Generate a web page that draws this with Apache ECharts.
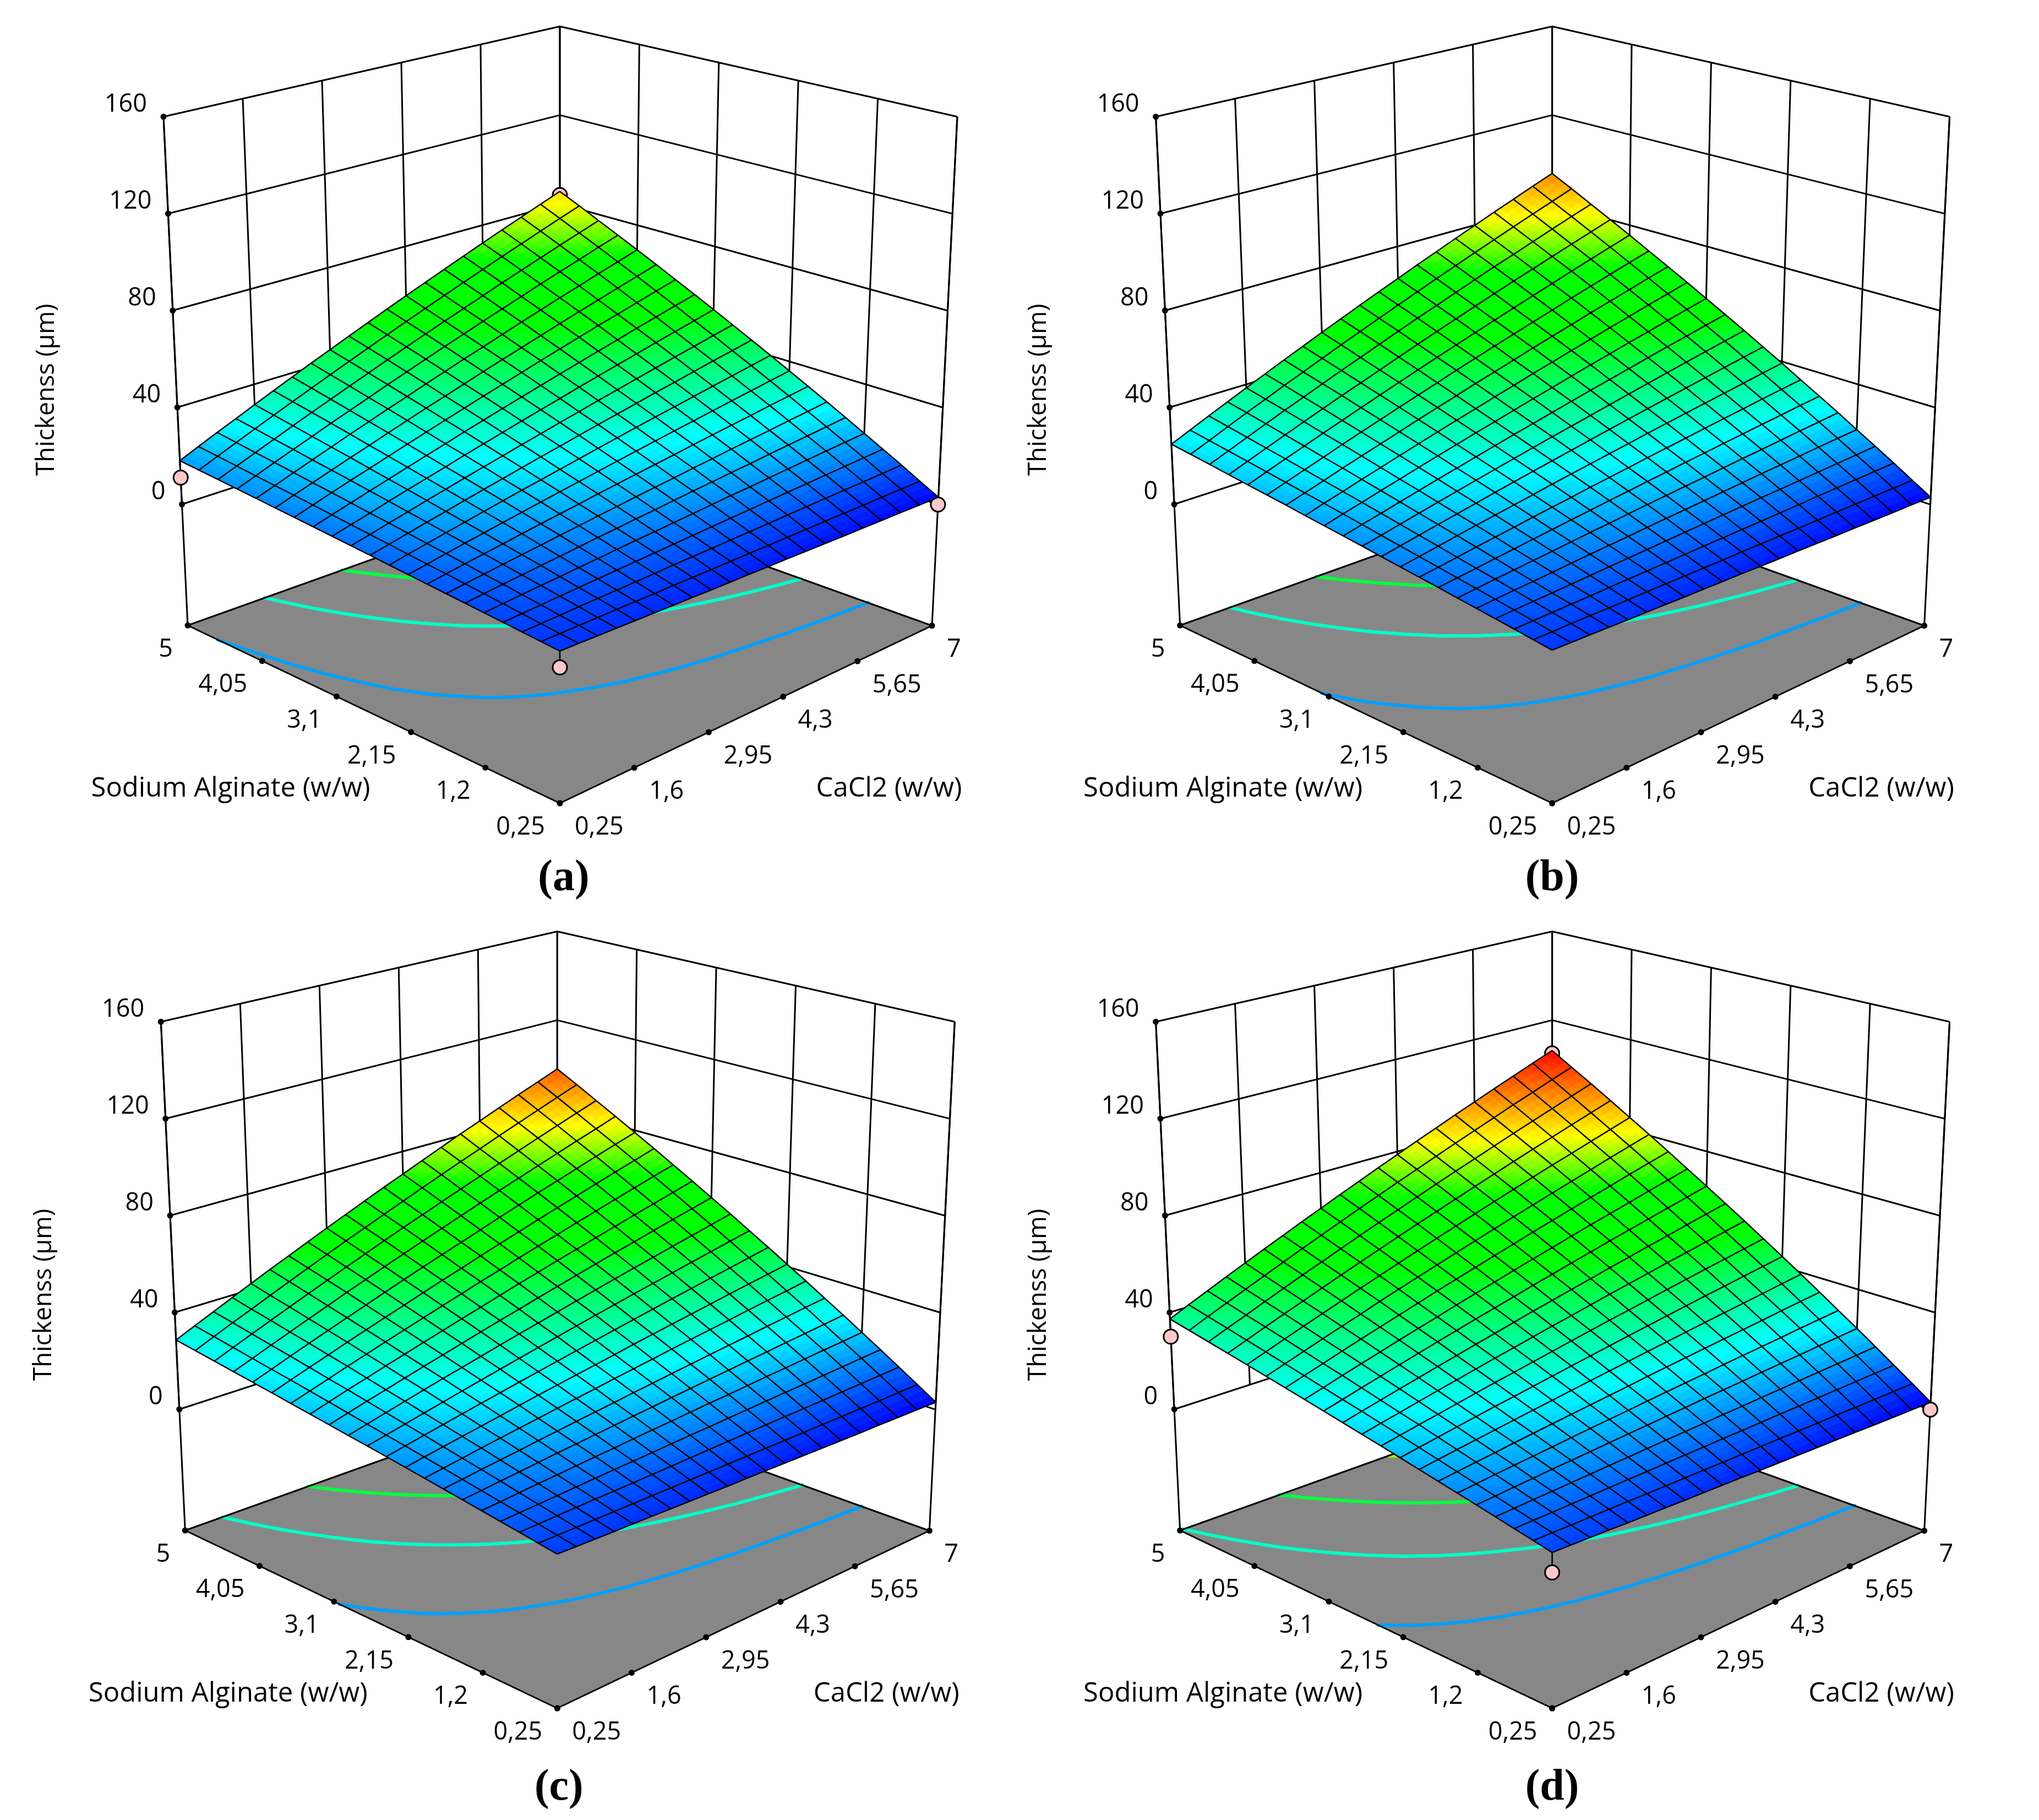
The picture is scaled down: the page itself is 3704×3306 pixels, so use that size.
<!DOCTYPE html>
<html><head><meta charset="utf-8"><style>html,body{margin:0;background:#fff}#c{width:3704px;height:3306px}</style>
<script src="https://cdn.jsdelivr.net/npm/echarts@6/dist/echarts.min.js"></script></head><body><div id="c"></div>
<script>
const caTicks=[0.25,1.6,2.95,4.3,5.65,7], caLabels=['0,25','1,6','2,95','4,3','5,65','7'];
const saTicks=[0.25,1.2,2.15,3.1,4.05,5], saLabels=['0,25','1,2','2,15','3,1','4,05','5'];
const zTicks=[0,40,80,120,160];
const zFloor=-50,zTop=160;
const caGrid=[0.25,0.5875,0.925,1.2625,1.6,1.9375,2.275,2.6125,2.95,3.2875,3.625,3.9625,4.3,4.6375,4.975,5.3125,5.65,5.9875,6.325,6.6625,7];
const saGrid=[0.25,0.4875,0.725,0.9625,1.2,1.4375,1.675,1.9125,2.15,2.3875,2.625,2.8625,3.1,3.3375,3.575,3.8125,4.05,4.2875,4.525,4.7625,5];
// Estimated surface heights: rows follow saGrid, columns follow caGrid. Estimated by eye from the corner heights and contour crossings.
const thicknessA=[
[7.9,7.7,7.4,7.2,6.9,6.7,6.4,6.2,5.9,5.7,5.5,5.2,5.0,4.7,4.5,4.2,4.0,3.7,3.5,3.2,3.0],
[8.4,8.3,8.3,8.2,8.2,8.1,8.0,8.0,7.9,7.8,7.8,7.7,7.6,7.6,7.5,7.5,7.4,7.3,7.3,7.2,7.1],
[8.9,9.0,9.1,9.3,9.4,9.5,9.6,9.7,9.9,10.0,10.1,10.2,10.3,10.4,10.6,10.7,10.8,10.9,11.0,11.1,11.3],
[9.4,9.7,10.0,10.3,10.6,10.9,11.2,11.5,11.8,12.1,12.4,12.7,13.0,13.3,13.6,13.9,14.2,14.5,14.8,15.1,15.4],
[9.9,10.4,10.9,11.4,11.8,12.3,12.8,13.3,13.8,14.2,14.7,15.2,15.7,16.2,16.6,17.1,17.6,18.1,18.6,19.0,19.5],
[10.4,11.1,11.8,12.4,13.1,13.7,14.4,15.1,15.7,16.4,17.0,17.7,18.4,19.0,19.7,20.3,21.0,21.7,22.3,23.0,23.7],
[10.9,11.8,12.6,13.5,14.3,15.1,16.0,16.8,17.7,18.5,19.4,20.2,21.0,21.9,22.7,23.6,24.4,25.2,26.1,26.9,27.8],
[11.4,12.5,13.5,14.5,15.5,16.6,17.6,18.6,19.6,20.7,21.7,22.7,23.7,24.7,25.8,26.8,27.8,28.8,29.9,30.9,31.9],
[11.9,13.1,14.4,15.6,16.8,18.0,19.2,20.4,21.6,22.8,24.0,25.2,26.4,27.6,28.8,30.0,31.2,32.4,33.6,34.8,36.0],
[12.4,13.8,15.2,16.6,18.0,19.4,20.8,22.2,23.5,24.9,26.3,27.7,29.1,30.5,31.9,33.2,34.6,36.0,37.4,38.8,40.2],
[13.0,14.5,16.1,17.7,19.2,20.8,22.4,23.9,25.5,27.1,28.6,30.2,31.8,33.3,34.9,36.5,38.0,39.6,41.2,42.7,44.3],
[13.5,15.2,17.0,18.7,20.5,22.2,24.0,25.7,27.4,29.2,30.9,32.7,34.4,36.2,37.9,39.7,41.4,43.2,44.9,46.7,48.4],
[14.0,15.9,17.8,19.8,21.7,23.6,25.5,27.5,29.4,31.3,33.3,35.2,37.1,39.1,41.0,42.9,44.8,46.8,48.7,50.6,52.6],
[14.5,16.6,18.7,20.8,22.9,25.0,27.1,29.2,31.4,33.5,35.6,37.7,39.8,41.9,44.0,46.1,48.2,50.4,52.5,54.6,56.7],
[15.0,17.3,19.6,21.9,24.1,26.4,28.7,31.0,33.3,35.6,37.9,40.2,42.5,44.8,47.1,49.4,51.7,53.9,56.2,58.5,60.8],
[15.5,18.0,20.4,22.9,25.4,27.8,30.3,32.8,35.3,37.7,40.2,42.7,45.2,47.6,50.1,52.6,55.1,57.5,60.0,62.5,65.0],
[16.0,18.6,21.3,23.9,26.6,29.3,31.9,34.6,37.2,39.9,42.5,45.2,47.8,50.5,53.2,55.8,58.5,61.1,63.8,66.4,69.1],
[16.5,19.3,22.2,25.0,27.8,30.7,33.5,36.3,39.2,42.0,44.9,47.7,50.5,53.4,56.2,59.0,61.9,64.7,67.5,70.4,73.2],
[17.0,20.0,23.0,26.0,29.1,32.1,35.1,38.1,41.1,44.2,47.2,50.2,53.2,56.2,59.2,62.3,65.3,68.3,71.3,74.3,77.3],
[17.5,20.7,23.9,27.1,30.3,33.5,36.7,39.9,43.1,46.3,49.5,52.7,55.9,59.1,62.3,65.5,68.7,71.9,75.1,78.3,81.5],
[18.0,21.4,24.8,28.1,31.5,34.9,38.3,41.7,45.0,48.4,51.8,55.2,58.6,61.9,65.3,68.7,72.1,75.5,78.8,82.2,85.6]];
const thicknessB=[
[8.3,8.0,7.8,7.5,7.2,7.0,6.7,6.4,6.2,5.9,5.7,5.4,5.1,4.9,4.6,4.3,4.1,3.8,3.5,3.3,3.0],
[9.1,9.0,9.0,8.9,8.8,8.7,8.7,8.6,8.5,8.4,8.3,8.3,8.2,8.1,8.0,7.9,7.9,7.8,7.7,7.6,7.5],
[10.0,10.1,10.2,10.3,10.4,10.5,10.6,10.7,10.8,10.9,11.0,11.1,11.2,11.3,11.4,11.5,11.7,11.8,11.9,12.0,12.1],
[10.8,11.1,11.4,11.6,11.9,12.2,12.5,12.8,13.1,13.4,13.7,14.0,14.3,14.6,14.9,15.1,15.4,15.7,16.0,16.3,16.6],
[11.6,12.1,12.6,13.0,13.5,14.0,14.5,14.9,15.4,15.9,16.4,16.8,17.3,17.8,18.3,18.8,19.2,19.7,20.2,20.7,21.1],
[12.4,13.1,13.8,14.4,15.1,15.7,16.4,17.1,17.7,18.4,19.1,19.7,20.4,21.0,21.7,22.4,23.0,23.7,24.4,25.0,25.7],
[13.3,14.1,14.9,15.8,16.6,17.5,18.3,19.2,20.0,20.9,21.7,22.6,23.4,24.3,25.1,26.0,26.8,27.7,28.5,29.4,30.2],
[14.1,15.1,16.1,17.2,18.2,19.2,20.3,21.3,22.3,23.4,24.4,25.4,26.5,27.5,28.5,29.6,30.6,31.6,32.7,33.7,34.7],
[14.9,16.1,17.3,18.6,19.8,21.0,22.2,23.4,24.7,25.9,27.1,28.3,29.5,30.8,32.0,33.2,34.4,35.6,36.8,38.1,39.3],
[15.7,17.1,18.5,19.9,21.3,22.7,24.2,25.6,27.0,28.4,29.8,31.2,32.6,34.0,35.4,36.8,38.2,39.6,41.0,42.4,43.8],
[16.6,18.1,19.7,21.3,22.9,24.5,26.1,27.7,29.3,30.9,32.5,34.0,35.6,37.2,38.8,40.4,42.0,43.6,45.2,46.8,48.4],
[17.4,19.2,20.9,22.7,24.5,26.3,28.0,29.8,31.6,33.4,35.1,36.9,38.7,40.5,42.2,44.0,45.8,47.6,49.3,51.1,52.9],
[18.2,20.2,22.1,24.1,26.0,28.0,30.0,31.9,33.9,35.8,37.8,39.8,41.7,43.7,45.7,47.6,49.6,51.5,53.5,55.5,57.4],
[19.0,21.2,23.3,25.5,27.6,29.8,31.9,34.1,36.2,38.3,40.5,42.6,44.8,46.9,49.1,51.2,53.4,55.5,57.7,59.8,62.0],
[19.9,22.2,24.5,26.9,29.2,31.5,33.8,36.2,38.5,40.8,43.2,45.5,47.8,50.2,52.5,54.8,57.2,59.5,61.8,64.2,66.5],
[20.7,23.2,25.7,28.2,30.8,33.3,35.8,38.3,40.8,43.3,45.9,48.4,50.9,53.4,55.9,58.4,61.0,63.5,66.0,68.5,71.0],
[21.5,24.2,26.9,29.6,32.3,35.0,37.7,40.4,43.1,45.8,48.5,51.2,53.9,56.6,59.3,62.0,64.7,67.5,70.2,72.9,75.6],
[22.3,25.2,28.1,31.0,33.9,36.8,39.7,42.5,45.4,48.3,51.2,54.1,57.0,59.9,62.8,65.7,68.5,71.4,74.3,77.2,80.1],
[23.2,26.2,29.3,32.4,35.5,38.5,41.6,44.7,47.7,50.8,53.9,57.0,60.0,63.1,66.2,69.3,72.3,75.4,78.5,81.6,84.6],
[24.0,27.2,30.5,33.8,37.0,40.3,43.5,46.8,50.1,53.3,56.6,59.8,63.1,66.4,69.6,72.9,76.1,79.4,82.7,85.9,89.2],
[24.8,28.2,31.7,35.1,38.6,42.0,45.5,48.9,52.4,55.8,59.3,62.7,66.1,69.6,73.0,76.5,79.9,83.4,86.8,90.3,93.7]];
const thicknessC=[
[8.7,8.4,8.1,7.8,7.6,7.3,7.0,6.7,6.4,6.1,5.9,5.6,5.3,5.0,4.7,4.4,4.1,3.9,3.6,3.3,3.0],
[9.7,9.6,9.5,9.4,9.3,9.2,9.1,9.0,8.9,8.8,8.7,8.6,8.5,8.4,8.3,8.2,8.1,8.0,7.9,7.9,7.8],
[10.7,10.8,10.9,11.0,11.1,11.1,11.2,11.3,11.4,11.5,11.6,11.7,11.8,11.9,12.0,12.0,12.1,12.2,12.3,12.4,12.5],
[11.7,12.0,12.2,12.5,12.8,13.1,13.4,13.6,13.9,14.2,14.5,14.7,15.0,15.3,15.6,15.9,16.1,16.4,16.7,17.0,17.3],
[12.7,13.1,13.6,14.1,14.5,15.0,15.5,15.9,16.4,16.9,17.3,17.8,18.3,18.7,19.2,19.7,20.1,20.6,21.1,21.5,22.0],
[13.7,14.3,15.0,15.6,16.3,17.0,17.6,18.3,18.9,19.6,20.2,20.9,21.5,22.2,22.8,23.5,24.1,24.8,25.4,26.1,26.8],
[14.7,15.5,16.4,17.2,18.0,18.9,19.7,20.6,21.4,22.2,23.1,23.9,24.8,25.6,26.5,27.3,28.1,29.0,29.8,30.7,31.5],
[15.7,16.7,17.7,18.8,19.8,20.8,21.8,22.9,23.9,24.9,26.0,27.0,28.0,29.1,30.1,31.1,32.1,33.2,34.2,35.2,36.3],
[16.7,17.9,19.1,20.3,21.5,22.7,24.0,25.2,26.4,27.6,28.8,30.0,31.3,32.5,33.7,34.9,36.1,37.4,38.6,39.8,41.0],
[17.7,19.1,20.5,21.9,23.3,24.7,26.1,27.5,28.9,30.3,31.7,33.1,34.5,35.9,37.3,38.7,40.1,41.5,42.9,44.3,45.8],
[18.7,20.2,21.8,23.4,25.0,26.6,28.2,29.8,31.4,33.0,34.6,36.2,37.8,39.4,41.0,42.5,44.1,45.7,47.3,48.9,50.5],
[19.6,21.4,23.2,25.0,26.8,28.6,30.3,32.1,33.9,35.7,37.4,39.2,41.0,42.8,44.6,46.4,48.1,49.9,51.7,53.5,55.3],
[20.6,22.6,24.6,26.5,28.5,30.5,32.4,34.4,36.4,38.4,40.3,42.3,44.3,46.2,48.2,50.2,52.1,54.1,56.1,58.0,60.0],
[21.6,23.8,26.0,28.1,30.3,32.4,34.6,36.7,38.9,41.0,43.2,45.4,47.5,49.7,51.8,54.0,56.1,58.3,60.4,62.6,64.8],
[22.6,25.0,27.3,29.7,32.0,34.4,36.7,39.0,41.4,43.7,46.1,48.4,50.8,53.1,55.4,57.8,60.1,62.5,64.8,67.2,69.5],
[23.6,26.2,28.7,31.2,33.8,36.3,38.8,41.3,43.9,46.4,48.9,51.5,54.0,56.5,59.1,61.6,64.1,66.7,69.2,71.7,74.3],
[24.6,27.3,30.1,32.8,35.5,38.2,40.9,43.7,46.4,49.1,51.8,54.5,57.2,60.0,62.7,65.4,68.1,70.8,73.6,76.3,79.0],
[25.6,28.5,31.4,34.3,37.2,40.1,43.1,46.0,48.9,51.8,54.7,57.6,60.5,63.4,66.3,69.2,72.1,75.0,77.9,80.8,83.8],
[26.6,29.7,32.8,35.9,39.0,42.1,45.2,48.3,51.4,54.5,57.6,60.6,63.7,66.8,69.9,73.0,76.1,79.2,82.3,85.4,88.5],
[27.6,30.9,34.2,37.4,40.7,44.0,47.3,50.6,53.9,57.1,60.4,63.7,67.0,70.3,73.6,76.8,80.1,83.4,86.7,90.0,93.3],
[28.6,32.1,35.5,39.0,42.5,46.0,49.4,52.9,56.4,59.8,63.3,66.8,70.2,73.7,77.2,80.7,84.1,87.6,91.1,94.5,98.0]];
const thicknessD=[
[9.3,9.0,8.7,8.4,8.0,7.7,7.4,7.1,6.8,6.5,6.2,5.8,5.5,5.2,4.9,4.6,4.3,3.9,3.6,3.3,3.0],
[10.7,10.6,10.4,10.3,10.2,10.1,9.9,9.8,9.7,9.6,9.4,9.3,9.2,9.1,8.9,8.8,8.7,8.5,8.4,8.3,8.2],
[12.1,12.2,12.2,12.3,12.3,12.4,12.5,12.5,12.6,12.7,12.7,12.8,12.8,12.9,13.0,13.0,13.1,13.1,13.2,13.3,13.3],
[13.5,13.7,14.0,14.2,14.5,14.7,15.0,15.2,15.5,15.7,16.0,16.2,16.5,16.7,17.0,17.2,17.5,17.7,18.0,18.2,18.5],
[14.9,15.3,15.8,16.2,16.7,17.1,17.5,18.0,18.4,18.8,19.3,19.7,20.2,20.6,21.0,21.5,21.9,22.3,22.8,23.2,23.7],
[16.3,16.9,17.6,18.2,18.8,19.4,20.1,20.7,21.3,21.9,22.6,23.2,23.8,24.4,25.1,25.7,26.3,26.9,27.6,28.2,28.8],
[17.7,18.5,19.3,20.1,21.0,21.8,22.6,23.4,24.2,25.0,25.8,26.7,27.5,28.3,29.1,29.9,30.7,31.5,32.4,33.2,34.0],
[19.1,20.1,21.1,22.1,23.1,24.1,25.1,26.1,27.1,28.1,29.1,30.1,31.1,32.1,33.1,34.1,35.1,36.1,37.1,38.2,39.2],
[20.5,21.7,22.9,24.1,25.3,26.5,27.6,28.8,30.0,31.2,32.4,33.6,34.8,36.0,37.2,38.4,39.6,40.7,41.9,43.1,44.3],
[21.9,23.3,24.7,26.0,27.4,28.8,30.2,31.5,32.9,34.3,35.7,37.1,38.5,39.8,41.2,42.6,44.0,45.4,46.7,48.1,49.5],
[23.3,24.9,26.4,28.0,29.6,31.1,32.7,34.3,35.8,37.4,39.0,40.5,42.1,43.7,45.2,46.8,48.4,49.9,51.5,53.1,54.7],
[24.7,26.5,28.2,30.0,31.7,33.5,35.2,37.0,38.7,40.5,42.3,44.0,45.8,47.5,49.3,51.0,52.8,54.5,56.3,58.1,59.8],
[26.1,28.0,30.0,31.9,33.9,35.8,37.8,39.7,41.7,43.6,45.5,47.5,49.4,51.4,53.3,55.3,57.2,59.1,61.1,63.0,65.0],
[27.5,29.6,31.8,33.9,36.0,38.2,40.3,42.4,44.6,46.7,48.8,51.0,53.1,55.2,57.4,59.5,61.6,63.7,65.9,68.0,70.1],
[28.9,31.2,33.5,35.9,38.2,40.5,42.8,45.1,47.5,49.8,52.1,54.4,56.7,59.1,61.4,63.7,66.0,68.3,70.7,73.0,75.3],
[30.3,32.8,35.3,37.8,40.3,42.8,45.4,47.9,50.4,52.9,55.4,57.9,60.4,62.9,65.4,67.9,70.4,72.9,75.5,78.0,80.5],
[31.7,34.4,37.1,39.8,42.5,45.2,47.9,50.6,53.3,56.0,58.7,61.4,64.1,66.8,69.5,72.2,74.9,77.5,80.2,82.9,85.6],
[33.1,36.0,38.9,41.8,44.6,47.5,50.4,53.3,56.2,59.1,62.0,64.8,67.7,70.6,73.5,76.4,79.3,82.1,85.0,87.9,90.8],
[34.5,37.6,40.6,43.7,46.8,49.9,52.9,56.0,59.1,62.2,65.2,68.3,71.4,74.5,77.5,80.6,83.7,86.7,89.8,92.9,96.0],
[35.9,39.2,42.4,45.7,48.9,52.2,55.5,58.7,62.0,65.3,68.5,71.8,75.0,78.3,81.6,84.8,88.1,91.4,94.6,97.9,101.1],
[37.3,40.8,44.2,47.7,51.1,54.6,58.0,61.5,64.9,68.4,71.8,75.3,78.7,82.2,85.6,89.1,92.5,96.0,99.4,102.9,106.3]];
const tables=[thicknessA,thicknessB,thicknessC,thicknessD];
const levels=[[17.2,32,46],[18.5,34,50],[20.3,35.5,51.5],[22.4,38,55.7,76]];
const levelColors=['#00a0ff','#00ffc8','#00ff40','#a0ff00'];
const pointsA=[[7,5,84],[0.25,5,11],[7,0.25,0],[0.25,0.25,1.7]];
const pointsD=[[7,5,105],[0.25,5,30],[7,0.25,0],[0.25,0.25,1.7]];
const designPoints=[pointsA,[],[],pointsD];
const captions=['(a)','(b)','(c)','(d)'];
const axisTitles=['Sodium Alginate (w/w)','CaCl2 (w/w)','Thickenss (µm)'];

const panelOffsets=[[0,0],[1802.6,0],[-4.7,1644],[1802.6,1644]];
const captionPos=[[1024,1596],[1017,1596],[1020,1604],[1017,1604]];
const colorStops=[[3,0,0,255],[27,0,255,255],[52,0,255,0],[68,0,255,0],[82,255,255,0],[107,255,0,0]];
const FONT='"Open Sans"',TICKSIZE=45,TITLESIZE=49;
const boxFloor=[[1017,1459],[1693,1136.5],[341,1136],[1017,894]];
const boxTop=[[1017,457],[1739,212],[297,212],[1017,48]];
function proj(u,v,z){const w=(z-zFloor)/(zTop-zFloor);const q=(b,k)=>b[0][k]*(1-u)*(1-v)+b[1][k]*u*(1-v)+b[2][k]*(1-u)*v+b[3][k]*u*v;return [q(boxFloor,0)*(1-w)+q(boxTop,0)*w,q(boxFloor,1)*(1-w)+q(boxTop,1)*w];}
const U=c=>(c-0.25)/6.75,V=s=>(s-0.25)/4.75;
function colorOf(z){const s=colorStops;if(z<=s[0][0])return `rgb(${s[0][1]},${s[0][2]},${s[0][3]})`;for(let i=1;i<s.length;i++){if(z<=s[i][0]){const f=(z-s[i-1][0])/(s[i][0]-s[i-1][0]);const c=k=>Math.round(s[i-1][k]+(s[i][k]-s[i-1][k])*f);return `rgb(${c(1)},${c(2)},${c(3)})`;}}const l=s[s.length-1];return `rgb(${l[1]},${l[2]},${l[3]})`;}
function line(api,pts,w,color,cap){return {type:'polyline',shape:{points:pts.map(p=>api.coord(p))},style:{stroke:color||'#000',lineWidth:w,fill:null,lineCap:cap||'butt',lineJoin:'round'},silent:true};}
function dot(api,p,r,fill,sw){const c=api.coord(p);return {type:'circle',shape:{cx:c[0],cy:c[1],r},style:{fill,stroke:sw?'#000':null,lineWidth:sw||0},silent:true};}
function text(api,p,s,o){const c=api.coord(p);return {type:'text',x:c[0],y:c[1],rotation:o.rot||0,style:{text:s,x:0,y:0,fill:'#000',font:o.font||`${TICKSIZE}px ${FONT}`,textAlign:o.align||'center',textVerticalAlign:'middle'},silent:true};}
function single(k,render,z){return {type:'custom',xAxisIndex:k,yAxisIndex:k,coordinateSystem:'cartesian2d',data:[[100,100]],clip:false,silent:true,animation:false,z:z,renderItem:(p,api)=>({type:'group',children:render(api)})};}
function contourSegs(tb,L){const segs=[];const n=caGrid.length-1,m=saGrid.length-1;for(let j=0;j<m;j++)for(let i=0;i<n;i++){const q=[[i,j],[i+1,j],[i+1,j+1],[i,j+1]];const pts=[];for(let e=0;e<4;e++){const a=q[e],b=q[(e+1)%4],za=tb[a[1]][a[0]],zb=tb[b[1]][b[0]];if((za<L)!==(zb<L)){const f=(L-za)/(zb-za);const ua=U(caGrid[a[0]]),ub=U(caGrid[b[0]]),va=V(saGrid[a[1]]),vb=V(saGrid[b[1]]);pts.push([ua+(ub-ua)*f,va+(vb-va)*f]);}}if(pts.length>=2)segs.push([pts[0],pts[1]]);if(pts.length===4)segs.push([pts[2],pts[3]]);}return segs;}
function panel(k){const tb=tables[k];const cells=[];for(let j=0;j<saGrid.length-1;j++)for(let i=0;i<caGrid.length-1;i++)cells.push([i,j]);
const us=caTicks.map(U),vs=saTicks.map(V);
return [
single(k,api=>{const c=[];
 zTicks.forEach(z=>{c.push(line(api,[proj(0,1,z),proj(1,1,z),proj(1,0,z)],3));});
 us.forEach(u=>c.push(line(api,[proj(u,1,0),proj(u,1,zTop)],3)));
 vs.forEach(v=>c.push(line(api,[proj(1,v,0),proj(1,v,zTop)],3)));
 c.push(line(api,[proj(0,1,zFloor),proj(0,1,zTop)],3));c.push(line(api,[proj(1,0,zFloor),proj(1,0,zTop)],3));
 return c;},1),
single(k,api=>{const c=[];
 c.push({type:'polygon',shape:{points:[proj(0,0,zFloor),proj(1,0,zFloor),proj(1,1,zFloor),proj(0,1,zFloor)].map(p=>api.coord(p))},style:{fill:'#878787'},silent:true});
 levels[k].forEach((L,n)=>{contourSegs(tb,L).forEach(s=>c.push(line(api,[proj(s[0][0],s[0][1],zFloor),proj(s[1][0],s[1][1],zFloor)],6,levelColors[n],'round')));});
 c.push(line(api,[proj(0,1,zFloor),proj(0,0,zFloor),proj(1,0,zFloor),proj(1,1,zFloor),proj(0,1,zFloor)],3));
 us.forEach(u=>c.push(dot(api,proj(u,0,zFloor),5.5,'#000')));
 vs.forEach(v=>c.push(dot(api,proj(0,v,zFloor),5.5,'#000')));
 zTicks.forEach(z=>c.push(dot(api,proj(0,1,z),5.5,'#000')));
 return c;},2),
single(k,api=>{const c=[];designPoints[k].forEach(p=>{const u=U(p[0]),v=V(p[1]),i=caGrid.indexOf(p[0]),j=saGrid.indexOf(p[1]);c.push(line(api,[proj(u,v,tb[j][i]),proj(u,v,p[2])],2.6));c.push(dot(api,proj(u,v,p[2]),13,'#ffc8c8',3));});return c;},3),
{type:'custom',xAxisIndex:k,yAxisIndex:k,coordinateSystem:'cartesian2d',data:cells,clip:false,silent:true,animation:false,z:4,renderItem:(p,api)=>{const i=api.value(0),j=api.value(1),N=3,c=[];const z00=tb[j][i],z10=tb[j][i+1],z01=tb[j+1][i],z11=tb[j+1][i+1];const u0=U(caGrid[i]),u1=U(caGrid[i+1]),v0=V(saGrid[j]),v1=V(saGrid[j+1]);const Z=(a,b)=>z00*(1-a)*(1-b)+z10*a*(1-b)+z01*(1-a)*b+z11*a*b;const P=(a,b)=>api.coord(proj(u0+(u1-u0)*a,v0+(v1-v0)*b,Z(a,b)));for(let m=0;m<N;m++)for(let n=0;n<N;n++){const a0=m/N,a1=(m+1)/N,b0=n/N,b1=(n+1)/N,col=colorOf(Z((a0+a1)/2,(b0+b1)/2));c.push({type:'polygon',shape:{points:[P(a0,b0),P(a1,b0),P(a1,b1),P(a0,b1)]},style:{fill:col,stroke:col,lineWidth:0.8},silent:true});}return {type:'group',children:c};}},
single(k,api=>{const c=[];saGrid.forEach((s,a)=>{c.push(line(api,caGrid.map((g,b)=>proj(U(g),V(s),tb[a][b])),2.4));});caGrid.forEach((g,b)=>{c.push(line(api,saGrid.map((s,a)=>proj(U(g),V(s),tb[a][b])),2.4));});return c;},5),
single(k,api=>{const c=[];
 zTicks.forEach(z=>{const q=proj(0,1,z);c.push(text(api,[q[0]-30,q[1]-22],String(z),{align:'right'}));});
 saTicks.forEach((s,n)=>{const q=proj(0,V(s),zFloor);c.push(text(api,[q[0]-27,q[1]+44],saLabels[n],{align:'right'}));});
 caTicks.forEach((s,n)=>{const q=proj(U(s),0,zFloor);c.push(text(api,[q[0]+27,q[1]+44],caLabels[n],{align:'left'}));});
 const tf=`${TITLESIZE}px ${FONT}`;
 c.push(text(api,[419,1433],axisTitles[0],{font:tf}));
 c.push(text(api,[1615,1433],axisTitles[1],{font:tf}));
 c.push(text(api,[85,708],axisTitles[2],{rot:Math.PI/2}));
 c.push(text(api,captionPos[k],captions[k],{font:'bold 80px "Liberation Serif"'}));
 return c;},6)
];}
const chart=echarts.init(document.getElementById('c'),null,{renderer:'canvas'});
let series=[];[0,1,2,3].forEach(k=>series=series.concat(panel(k)));
chart.setOption({animation:false,backgroundColor:'#fff',
 grid:panelOffsets.map(o=>({show:false,left:20+o[0],top:o[1],width:1800,height:1640,containLabel:false})),
 xAxis:panelOffsets.map((o,k)=>({type:'value',gridIndex:k,min:20,max:1820,show:false})),
 yAxis:panelOffsets.map((o,k)=>({type:'value',gridIndex:k,min:0,max:1640,inverse:true,show:false})),
 series});
</script></body></html>
